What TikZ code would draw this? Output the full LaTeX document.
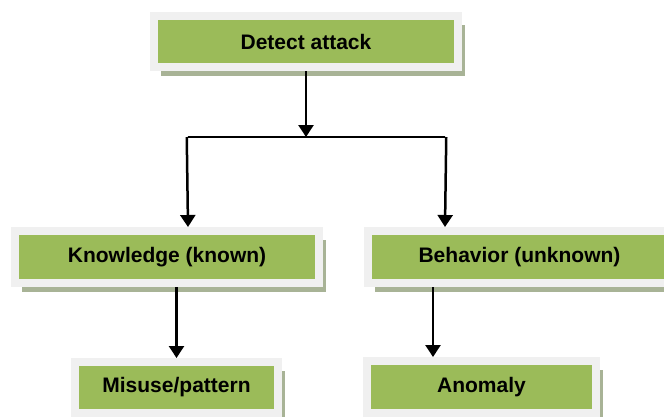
\documentclass[tikz,border=0pt]{standalone}
\usepackage{fontspec}
\setmainfont{Liberation Sans}
\usepackage{tikz}
\usetikzlibrary{arrows.meta, shadows}
\definecolor{stagegreen}{HTML}{9BBB59}
\definecolor{framegray}{HTML}{F0F0F0}
\definecolor{shadowgreen}{HTML}{A8B396}

\begin{document}
\begin{tikzpicture}[
  x=1pt, y=-1pt,
  stage/.style={rectangle, fill=stagegreen, draw=framegray, line width=8pt,
                inner sep=0pt, font=\bfseries\fontsize{21}{25}\selectfont,
                drop shadow={shadow xshift=7pt, shadow yshift=-9pt,
                             fill=shadowgreen, opacity=1}},
  link/.style={line width=2.5pt, black},
  arr/.style={link, -{Triangle[width=15pt, length=12pt]}},
]
\useasboundingbox (0,0) rectangle (664,416);

\node[stage, minimum width=304pt, minimum height=51pt] (detect) at (306, 41.5) {Detect attack};

\node[stage, minimum width=304pt, minimum height=52pt] (know) at (167, 257) {Knowledge (known)};
\node[stage, minimum width=303pt, minimum height=52pt] (beh) at (519.5, 257) {Behavior (unknown)};

\node[stage, minimum width=203pt, minimum height=51pt] (misuse) at (176.5, 387.5) {Misuse/pattern};
\node[stage, minimum width=229pt, minimum height=52pt] (anom) at (481.5, 387) {Anomaly};

% split below the top box
\coordinate (split) at (306, 137);
\coordinate (lft) at (188, 137);
\coordinate (rgt) at (445, 137);

\draw[arr] (detect.south) -- (split);
\draw[link] (lft) -- (rgt);
\draw[arr] ([xshift=-1.25pt]lft) -- (lft |- know.north);
\draw[arr] ([xshift=1.25pt]rgt) -- (rgt |- beh.north);

\draw[arr] (know.south -| misuse.north) -- (misuse.north);
\draw[arr] ([xshift=-48.5pt]anom.north |- beh.south) -- ([xshift=-48.5pt]anom.north);

\end{tikzpicture}
\end{document}
